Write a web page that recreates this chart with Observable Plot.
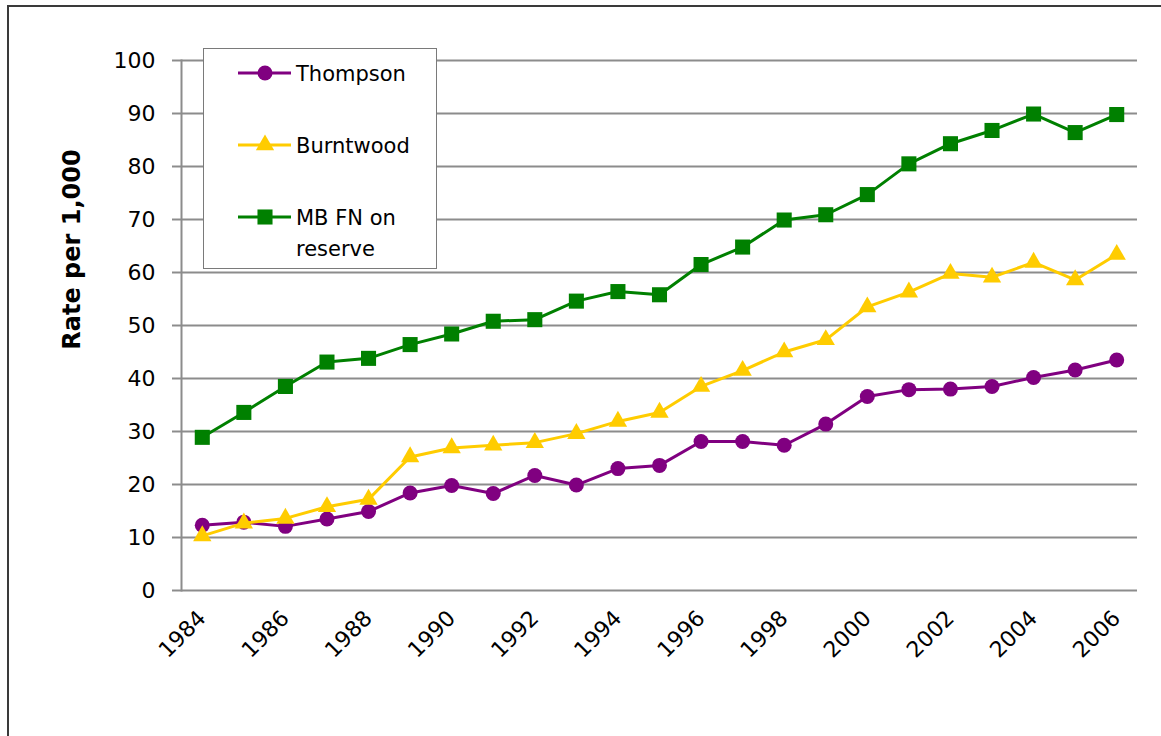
<!DOCTYPE html>
<html>
<head>
<meta charset="utf-8">
<script src="https://cdn.jsdelivr.net/npm/d3@7"></script>
<script src="https://cdn.jsdelivr.net/npm/@observablehq/plot@0.6"></script>
<style>
  html, body { margin: 0; padding: 0; background: #fff; }
  #wrap { position: relative; width: 1161px; height: 736px; overflow: hidden; font-family: "DejaVu Sans", sans-serif; }
  #border { position: absolute; left: 7px; top: 5px; right: -10px; bottom: -10px; border-left: 2px solid #3a3a3a; border-top: 2px solid #3a3a3a; pointer-events: none; }
  #legend { position: absolute; left: 203px; top: 48px; width: 232px; height: 219px; background: #fff; border: 1px solid #7a7a7a; }
</style>
</head>
<body>
<div id="wrap">
  <div id="chart"></div>
  <div id="border"></div>
  <div id="legend"></div>
</div>
<script>
// ---- data ----
const years = [1984, 1985, 1986, 1987, 1988, 1989, 1990, 1991, 1992, 1993, 1994, 1995,
               1996, 1997, 1998, 1999, 2000, 2001, 2002, 2003, 2004, 2005, 2006];
const thompson  = [12.3, 12.9, 12.1, 13.5, 14.9, 18.4, 19.8, 18.3, 21.7, 19.9, 23.0, 23.6,
                   28.1, 28.1, 27.4, 31.4, 36.6, 37.9, 38.0, 38.5, 40.2, 41.6, 43.5];
const burntwood = [10.3, 12.7, 13.6, 15.8, 17.2, 25.2, 26.9, 27.4, 27.9, 29.6, 31.9, 33.6,
                   38.5, 41.5, 45.0, 47.3, 53.5, 56.3, 59.8, 59.1, 61.9, 58.6, 63.4];
const mbfnOnReserve = [28.9, 33.6, 38.5, 43.1, 43.8, 46.4, 48.4, 50.8, 51.1, 54.6, 56.4, 55.8,
                   61.5, 64.8, 69.9, 70.9, 74.7, 80.5, 84.3, 86.8, 89.9, 86.4, 89.8];
const seriesNames  = ["Thompson", "Burntwood", "MB FN on reserve"];
const seriesLegendLines = [["Thompson"], ["Burntwood"], ["MB FN on", "reserve"]];
const seriesColors = ["#800080", "#FFCC00", "#008000"];
const seriesSymbols = ["circle", "triangle", "square"];
const seriesRadius = [7.5, 6.8, 8.5];
const yTicks = [0, 10, 20, 30, 40, 50, 60, 70, 80, 90, 100];
const xTickYears = [1984, 1986, 1988, 1990, 1992, 1994, 1996, 1998, 2000, 2002, 2004, 2006];
const yLabel = "Rate per 1,000";

// ---- build long table ----
const seriesValues = [thompson, burntwood, mbfnOnReserve];
const rows = [];
seriesNames.forEach((name, i) => {
  years.forEach((yr, j) => rows.push({series: name, year: yr, value: seriesValues[i][j]}));
});

const gridColor = "#8c8c8c";

const marks = [
  Plot.ruleY(yTicks, {stroke: gridColor, strokeWidth: 2}),
  Plot.frame({anchor: "left", stroke: gridColor, strokeWidth: 2}),
  Plot.axisY({ticks: yTicks, tickSize: 9, tickPadding: 17, stroke: gridColor, strokeWidth: 2, label: null, fontSize: 22}),
  Plot.axisX({ticks: xTickYears, tickFormat: d => String(d), tickSize: 0, tickPadding: 24, tickRotate: -45, label: null, fontSize: 22}),
  Plot.text([yLabel], {frameAnchor: "left", textAnchor: "middle", rotate: -90, dx: -109, dy: -76, fontWeight: "bold", fontSize: 24, fill: "#000"})
];
seriesNames.forEach((name, i) => {
  const d = rows.filter(r => r.series === name);
  marks.push(Plot.line(d, {x: "year", y: "value", stroke: seriesColors[i], strokeWidth: 3}));
  marks.push(Plot.dot(d, {x: "year", y: "value", fill: seriesColors[i], symbol: seriesSymbols[i], r: seriesRadius[i], stroke: "none"}));
});

const chart = Plot.plot({
  width: 1161,
  height: 736,
  marginLeft: 181,
  marginRight: 24,
  marginTop: 60,
  marginBottom: 146,
  style: {fontFamily: "DejaVu Sans, sans-serif", fontSize: "22px", color: "#000", background: "transparent"},
  x: {type: "point", domain: years, padding: 0.5, round: false},
  y: {domain: [0, 100]},
  marks
});
document.getElementById("chart").appendChild(chart);

// ---- legend ----
const lg = d3.select("#legend").append("svg").attr("width", 232).attr("height", 219)
  .style("font-family", "DejaVu Sans, sans-serif");
const rowY = [24, 96, 168];
const symbolMap = {circle: d3.symbolCircle, triangle: d3.symbolTriangle, square: d3.symbolSquare};
seriesNames.forEach((name, i) => {
  const g = lg.append("g").attr("transform", `translate(0,${rowY[i]})`);
  g.append("line").attr("x1", 34).attr("x2", 87).attr("y1", 0).attr("y2", 0)
    .attr("stroke", seriesColors[i]).attr("stroke-width", 3);
  g.append("path").attr("transform", "translate(61,0)")
    .attr("d", d3.symbol(symbolMap[seriesSymbols[i]], Math.PI * seriesRadius[i] * seriesRadius[i])())
    .attr("fill", seriesColors[i]);
  seriesLegendLines[i].forEach((t, k) => {
    g.append("text").attr("x", 92).attr("y", k * 31).attr("dy", "0.36em")
      .attr("font-size", 21).attr("fill", "#000").text(t);
  });
});
</script>
</body>
</html>
